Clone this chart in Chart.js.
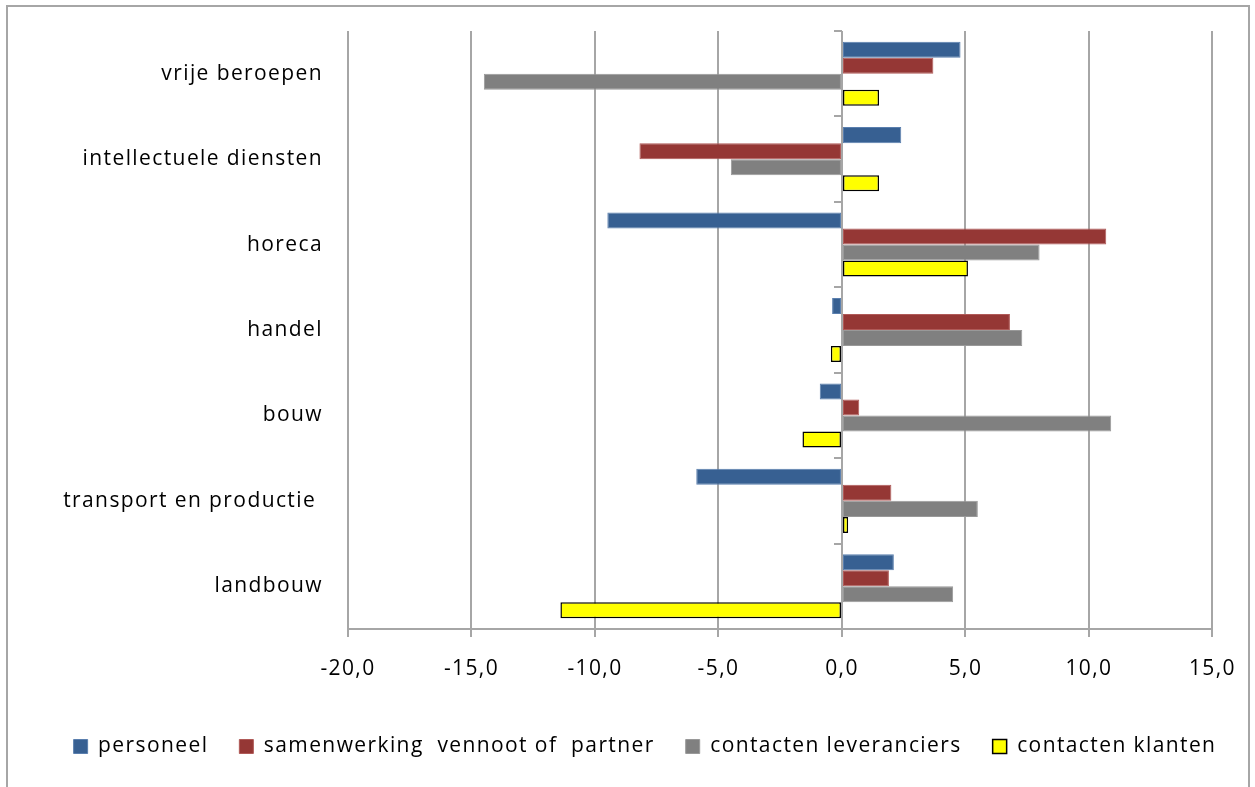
<!DOCTYPE html>
<html>
<head>
<meta charset="utf-8">
<script src="https://cdn.jsdelivr.net/npm/chart.js@4.4.0/dist/chart.umd.min.js"></script>
<style>
  html, body { margin: 0; padding: 0; background: #fff; overflow: hidden; }
  #frame { position: absolute; left: 6px; top: 5px; width: 1244px; height: 800px; border: 2px solid #a6a6a6; box-sizing: border-box; }
  #wrap { position: absolute; left: 0; top: 0; width: 1255px; height: 787px; }
</style>
</head>
<body>
<div id="frame"></div>
<div id="wrap"><canvas id="barChart"></canvas></div>
<script>
// categories, top to bottom
var sectors = ["vrije beroepen", "intellectuele diensten", "horeca", "handel", "bouw", "transport en productie ", "landbouw"];
var seriesNames = ["personeel", "samenwerking  vennoot of  partner", "contacten leveranciers", "contacten klanten"];

var personeel = [4.8, 2.4, -9.5, -0.4, -0.9, -5.9, 2.1];
var samenwerking = [3.7, -8.2, 10.7, 6.8, 0.7, 2.0, 1.9];
var leveranciers = [-14.5, -4.5, 8.0, 7.3, 10.9, 5.5, 4.5];
var klanten = [1.5, 1.5, 5.1, -0.45, -1.6, 0.25, -11.4];

var xTicks = [-20, -15, -10, -5, 0, 5, 10, 15];

var fontFam = "'Open Sans', sans-serif";

// the original text is drawn wide, so add a bit of letter spacing
var wideText = {
  id: "wideText",
  beforeLayout: function (chart) { chart.ctx.letterSpacing = "1.4px"; },
  beforeDraw: function (chart) { chart.ctx.letterSpacing = "1.4px"; }
};

// legend sits a little right of centre in the original
var legendShift = {
  id: "legendShift",
  afterLayout: function (chart) {
    chart.legend.left += 38;
    chart.legend.right += 38;
  }
};

// small category tick marks left of the zero line
var catTicks = {
  id: "catTicks",
  afterDatasetsDraw: function (chart) {
    var ctx = chart.ctx;
    var x0 = chart.scales.x.getPixelForValue(0);
    var y = chart.scales.y;
    var step = (y.bottom - y.top) / sectors.length;
    ctx.save();
    ctx.strokeStyle = "#a6a6a6";
    ctx.lineWidth = 2;
    for (var i = 0; i <= sectors.length; i++) {
      var py = Math.round(y.top + i * step);
      ctx.beginPath();
      ctx.moveTo(x0 - 8, py);
      ctx.lineTo(x0, py);
      ctx.stroke();
    }
    ctx.restore();
  }
};

new Chart(document.getElementById("barChart"), {
  type: "bar",
  data: {
    labels: sectors,
    datasets: [{
      label: seriesNames[0],
      data: personeel,
      backgroundColor: "#376092",
      borderColor: "#5a7fae",
      borderWidth: 1,
    }, {
      label: seriesNames[1],
      data: samenwerking,
      backgroundColor: "#953735",
      borderColor: "#b05a58",
      borderWidth: 1,
    }, {
      label: seriesNames[2],
      data: leveranciers,
      backgroundColor: "#808080",
      borderColor: "#999999",
      borderWidth: 1,
    }, {
      label: seriesNames[3],
      data: klanten,
      backgroundColor: "#ffff00",
      borderColor: "#000000",
      borderWidth: 1.5,
    }],
  },
  plugins: [wideText, legendShift, catTicks],
  options: {
    indexAxis: "y",
    responsive: true,
    maintainAspectRatio: false,
    animation: false,
    layout: { padding: { left: 0, top: 31, right: 41, bottom: 20 } },
    datasets: {
      bar: { categoryPercentage: 0.75, barPercentage: 1.0, borderSkipped: false }
    },
    plugins: {
      tooltip: { enabled: false },
      legend: {
        position: "bottom",
        labels: {
          color: "#000",
          font: { family: fontFam, size: 21 },
          boxWidth: 14,
          boxHeight: 14,
          padding: 31,
        },
      },
    },
    scales: {
      x: {
        min: -20,
        max: 15,
        afterBuildTicks: function (axis) {
          axis.ticks = xTicks.map(function (v) { return { value: v }; });
        },
        afterFit: function (axis) { axis.height = 76; },
        grid: {
          color: "#a6a6a6",
          lineWidth: 2,
          tickLength: 8,
          drawOnChartArea: true,
        },
        border: { display: true, color: "#a6a6a6", width: 2 },
        ticks: {
          color: "#000",
          padding: 19,
          font: { family: fontFam, size: 21 },
          callback: function (v) { return v.toFixed(1).replace(".", ","); },
        },
      },
      y: {
        afterFit: function (axis) { axis.width = 348; },
        grid: { display: false },
        border: { display: false },
        ticks: {
          color: "#000",
          padding: 17,
          font: { family: fontFam, size: 21 },
        },
      },
    },
  },
});
</script>
</body>
</html>
